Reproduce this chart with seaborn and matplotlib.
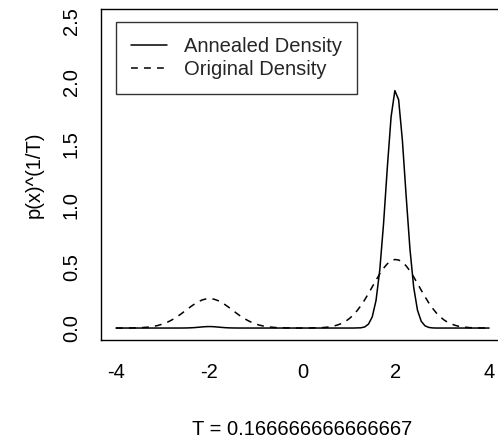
import matplotlib
matplotlib.use("Agg")
import matplotlib.pyplot as plt
from matplotlib.lines import Line2D
import numpy as np
import pandas as pd
import seaborn as sns

# grid of 100 points from -4 to 4
x = np.linspace(-4, 4, 100)

annealed = [
    0.0, 0.0, 0.0, 0.0, 0.0, 0.0, 0.0, 0.0, 0.0, 0.0,
    0.0, 0.0, 0.0, 0.0, 0.0, 0.0, 0.0, 0.0001, 0.0003, 0.0009,
    0.0021, 0.0040, 0.0067, 0.0095, 0.0115, 0.0120, 0.0107, 0.0081, 0.0053, 0.0029,
    0.0014, 0.0006, 0.0002, 0.0001, 0.0, 0.0, 0.0, 0.0, 0.0, 0.0,
    0.0, 0.0, 0.0, 0.0, 0.0, 0.0, 0.0, 0.0, 0.0, 0.0,
    0.0, 0.0, 0.0, 0.0, 0.0, 0.0, 0.0, 0.0, 0.0, 0.0,
    0.0, 0.0, 0.0, 0.0, 0.001, 0.002, 0.009, 0.032, 0.091, 0.224,
    0.472, 0.849, 1.306, 1.719, 1.933, 1.859, 1.528, 1.074, 0.646, 0.332,
    0.146, 0.055, 0.018, 0.005, 0.001, 0.0, 0.0, 0.0, 0.0, 0.0,
    0.0, 0.0, 0.0, 0.0, 0.0, 0.0, 0.0, 0.0, 0.0, 0.0,
]

original = [
    0.000, 0.000, 0.000, 0.001, 0.001, 0.001, 0.002, 0.004, 0.006, 0.009,
    0.014, 0.020, 0.029, 0.039, 0.053, 0.069, 0.088, 0.109, 0.132, 0.155,
    0.178, 0.199, 0.217, 0.230, 0.238, 0.239, 0.235, 0.224, 0.209, 0.189,
    0.167, 0.144, 0.120, 0.098, 0.078, 0.061, 0.046, 0.034, 0.024, 0.017,
    0.011, 0.008, 0.005, 0.003, 0.002, 0.001, 0.001, 0.000, 0.000, 0.000,
    0.000, 0.000, 0.001, 0.002, 0.003, 0.004, 0.007, 0.011, 0.018, 0.027,
    0.039, 0.056, 0.079, 0.107, 0.142, 0.183, 0.230, 0.281, 0.335, 0.390,
    0.441, 0.487, 0.523, 0.547, 0.558, 0.554, 0.537, 0.506, 0.465, 0.416,
    0.363, 0.308, 0.255, 0.205, 0.161, 0.123, 0.092, 0.067, 0.047, 0.033,
    0.022, 0.014, 0.009, 0.006, 0.003, 0.002, 0.001, 0.001, 0.000, 0.000,
]

labels = ["Annealed Density", "Original Density"]
xticks = [-4, -2, 0, 2, 4]
yticks = [0.0, 0.5, 1.0, 1.5, 2.0, 2.5]

sns.set_theme(style="white")
plt.rcParams['font.family'] = ['Liberation Sans', 'DejaVu Sans']
plt.rcParams['axes.unicode_minus'] = False

df = pd.DataFrame({
    'x': np.concatenate([x, x]),
    'y': annealed + original,
    'kind': [labels[0]] * len(x) + [labels[1]] * len(x),
})

fs = 14.5
dash = (4.5, 4)
fig = plt.figure(figsize=(4.98, 4.41), dpi=100)
ax = fig.add_axes([0.203, 0.2283, 0.809, 0.752])
sns.lineplot(data=df, x='x', y='y', style='kind',
             dashes={labels[0]: '', labels[1]: dash},
             color='black', linewidth=1.1, ax=ax, legend=False)

ax.set_xlim(-4.32, 4.32)
ax.set_ylim(-0.1, 2.6)
ax.set_xticks(xticks)
ax.set_xticklabels([str(t) for t in xticks])
ax.set_yticks(yticks)
ax.set_yticklabels([f"{t:.1f}" for t in yticks], rotation=90, va='center')
for s in ax.spines.values():
    s.set_color('black')
    s.set_linewidth(1.0)
ax.tick_params(direction='out', length=8.5, width=1.0, color='black',
               labelsize=fs, labelcolor='black')
ax.tick_params(axis='x', pad=8)
ax.tick_params(axis='y', pad=6)
ax.set_xlabel("T = 0.166666666666667", fontsize=fs, labelpad=27, color='black')
ax.set_ylabel("p(x)^(1/T)", fontsize=fs, labelpad=13, color='black')

handles = [Line2D([], [], color='black', lw=1.1),
           Line2D([], [], color='black', lw=1.1, dashes=dash)]
leg = ax.legend(handles, labels, loc='upper left', bbox_to_anchor=(0.0365, 0.961),
                borderaxespad=0, fontsize=fs, frameon=True, fancybox=False,
                handlelength=1.8, handletextpad=0.85, labelspacing=0.2,
                borderpad=0.75)
leg.get_frame().set_edgecolor('black')
leg.get_frame().set_linewidth(1.0)

fig.savefig("out.png", dpi=100)
